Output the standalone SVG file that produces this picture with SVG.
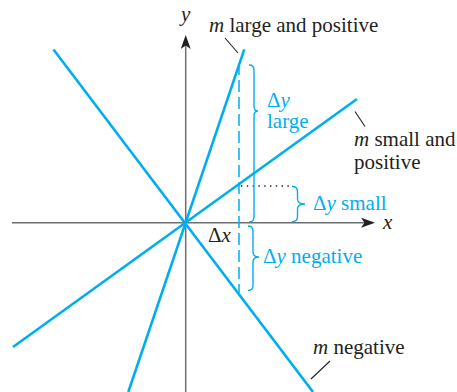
<svg xmlns="http://www.w3.org/2000/svg" width="457" height="392" viewBox="0 0 457 392">
  <defs>
    <style>
      .axis { stroke: #6d6e71; stroke-width: 1.5; fill: none; }
      .line { stroke: #00aeef; stroke-width: 2.6; fill: none; stroke-linecap: butt; }
      .brace { stroke: #00aeef; stroke-width: 1.4; fill: none; }
      .dash { stroke: #00aeef; stroke-width: 1.5; stroke-dasharray: 12 5; fill: none; }
      .dot { stroke: #231f20; stroke-width: 1.4; stroke-dasharray: 1.4 4.4; fill: none; }
      .leader { stroke: #231f20; stroke-width: 1.1; fill: none; }
      text { font-family: "Liberation Serif", "Times New Roman", serif; font-size: 21px; fill: #231f20; }
      .blue { fill: #00aeef; }
      .it { font-style: italic; }
    </style>
    <marker id="arrow" markerUnits="userSpaceOnUse" viewBox="0 0 14 10" refX="5" refY="5" markerWidth="14" markerHeight="10" orient="auto">
      <path d="M0,0 L14,5 L0,10 L3.5,5 Z" fill="#231f20"/>
    </marker>
  </defs>

  <g id="axes">
    <line class="axis" x1="12" y1="222.7" x2="366" y2="222.7" marker-end="url(#arrow)"/>
    <line class="axis" x1="185.7" y1="392" x2="185.7" y2="44" marker-end="url(#arrow)"/>
    <text class="it" x="181" y="21">y</text>
    <text class="it" x="383" y="229">x</text>
  </g>

  <g id="lines">
    <line id="line-large" class="line" x1="244.3" y1="49.3" x2="128.3" y2="392"/>
    <line id="line-small" class="line" x1="357" y1="99" x2="13" y2="347"/>
    <line id="line-negative" class="line" x1="53.5" y1="49.5" x2="313" y2="392"/>
  </g>

  <g id="guides">
    <line class="dash" x1="239" y1="63" x2="239" y2="293"/>
    <line class="dot" x1="241" y1="186" x2="292" y2="186"/>
  </g>

  <g id="brace-large">
    <path class="brace" d="M249,65 Q254,65 254,70 L254,106 Q254,111 258,111 Q254,111 254,116 L254,217 Q254,222 249,222"/>
    <text class="blue" x="267" y="107">Δ<tspan class="it">y</tspan><tspan x="267" dy="20.5">large</tspan></text>
  </g>

  <g id="brace-small">
    <path class="brace" d="M292,186.5 Q297.5,186.5 297.5,191.5 L297.5,199 Q297.5,204 305,204 Q297.5,204 297.5,209 L297.5,216.7 Q297.5,221.7 292,221.7"/>
    <text class="blue" x="313" y="210">Δ<tspan class="it">y</tspan> small</text>
  </g>

  <g id="brace-negative">
    <path class="brace" d="M248,226 Q253,226 253,231 L253,252 Q253,257 259,257 Q253,257 253,262 L253,285.5 Q253,290.5 248,290.5"/>
    <text class="blue" x="263" y="263">Δ<tspan class="it">y</tspan> negative</text>
  </g>

  <g id="label-dx">
    <text x="208" y="242">Δ<tspan class="it">x</tspan></text>
  </g>

  <g id="connectors">
    <line class="leader" x1="225" y1="38" x2="238" y2="53"/>
    <line class="leader" x1="355" y1="111.5" x2="365" y2="126.5"/>
    <line class="leader" x1="330" y1="361" x2="311" y2="379"/>
  </g>

  <g id="label-large">
    <text x="209" y="32"><tspan class="it">m</tspan> large and positive</text>
  </g>
  <g id="label-small">
    <text x="354" y="146"><tspan class="it">m</tspan> small and<tspan x="354" dy="23">positive</tspan></text>
  </g>
  <g id="label-negative">
    <text x="313" y="354"><tspan class="it">m</tspan> negative</text>
  </g>
</svg>
